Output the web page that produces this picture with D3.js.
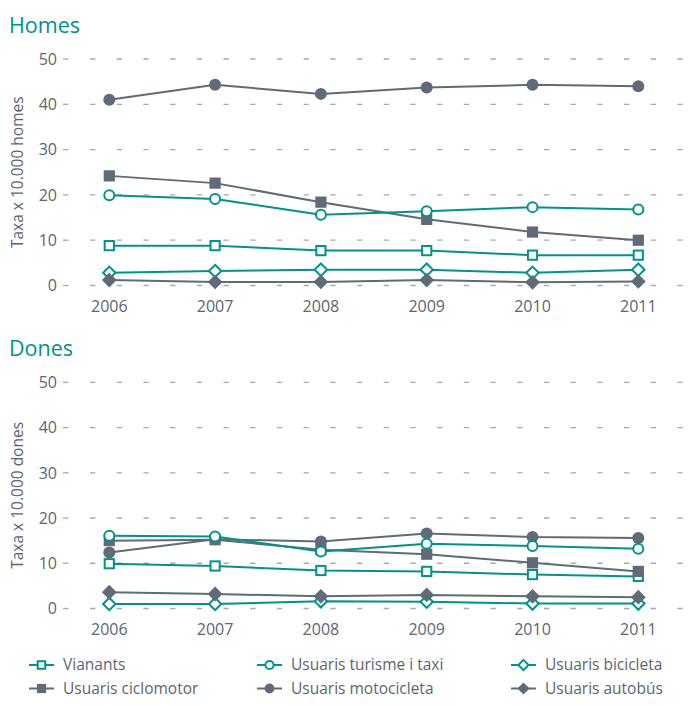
<!DOCTYPE html>
<html>
<head>
<meta charset="utf-8">
<script src="https://cdn.jsdelivr.net/npm/d3@7/dist/d3.min.js"></script>
<style>
  html, body { margin: 0; padding: 0; background: #fff; }
  svg { display: block; font-family: "Open Sans", "Noto Sans", sans-serif; }
</style>
</head>
<body>
<svg id="chart" width="689" height="706"></svg>
<script>
// Years on the horizontal axis
const years = [2006, 2007, 2008, 2009, 2010, 2011];
const yTicks = [0, 10, 20, 30, 40, 50];

// Rates per 10,000 — men
const homesVianants    = [8.8, 8.8, 7.7, 7.7, 6.7, 6.7];
const homesTurisme     = [19.9, 19.1, 15.6, 16.4, 17.3, 16.8];
const homesBicicleta   = [2.8, 3.2, 3.5, 3.5, 2.8, 3.5];
const homesCiclomotor  = [24.2, 22.6, 18.4, 14.6, 11.8, 10.0];
const homesMotocicleta = [41.0, 44.3, 42.3, 43.7, 44.3, 44.0];
const homesAutobus     = [1.2, 0.8, 0.8, 1.2, 0.7, 0.9];

// Rates per 10,000 — women
const donesVianants    = [9.9, 9.4, 8.4, 8.2, 7.5, 7.1];
const donesTurisme     = [16.1, 15.9, 12.6, 14.3, 13.8, 13.2];
const donesBicicleta   = [1.0, 1.0, 1.6, 1.5, 1.1, 1.1];
const donesCiclomotor  = [15.0, 15.2, 13.0, 12.0, 10.1, 8.2];
const donesMotocicleta = [12.4, 15.3, 14.8, 16.6, 15.8, 15.6];
const donesAutobus     = [3.6, 3.2, 2.7, 3.0, 2.7, 2.5];

const seriesNames = ["Vianants", "Usuaris turisme i taxi", "Usuaris bicicleta",
                     "Usuaris ciclomotor", "Usuaris motocicleta", "Usuaris autobús"];

const TEAL = "#00928b";
const GREY = "#5f6b76";
const TEXT = "#5c6670";
const GRID = "#a3abb2";

// Series styling: shape, colour, open/filled
const styles = {
  "Vianants":               { shape: "square",  color: TEAL, open: true },
  "Usuaris turisme i taxi": { shape: "circle",  color: TEAL, open: true },
  "Usuaris bicicleta":      { shape: "diamond", color: TEAL, open: true },
  "Usuaris ciclomotor":     { shape: "square",  color: GREY, open: false },
  "Usuaris motocicleta":    { shape: "circle",  color: GREY, open: false },
  "Usuaris autobús":        { shape: "diamond", color: GREY, open: false }
};

// Drawing order (later ones sit on top)
const drawOrder = ["Vianants", "Usuaris bicicleta", "Usuaris autobús",
                   "Usuaris ciclomotor", "Usuaris motocicleta", "Usuaris turisme i taxi"];

const panels = [
  { title: "Homes", axisTitle: "Taxa x 10.000 homes", top: 59, bottom: 285.5,
    data: { "Vianants": homesVianants, "Usuaris turisme i taxi": homesTurisme,
            "Usuaris bicicleta": homesBicicleta, "Usuaris ciclomotor": homesCiclomotor,
            "Usuaris motocicleta": homesMotocicleta, "Usuaris autobús": homesAutobus } },
  { title: "Dones", axisTitle: "Taxa x 10.000 dones", top: 382.3, bottom: 608.5,
    data: { "Vianants": donesVianants, "Usuaris turisme i taxi": donesTurisme,
            "Usuaris bicicleta": donesBicicleta, "Usuaris ciclomotor": donesCiclomotor,
            "Usuaris motocicleta": donesMotocicleta, "Usuaris autobús": donesAutobus } }
];

const svg = d3.select("#chart");
const x = d3.scalePoint().domain(years).range([109.3, 638.3]);

// Marker drawing helper
function drawMarker(g, shape, color, open, cx, cy, scale) {
  const s = scale || 1;
  const fill = open ? "#fff" : color;
  const sw = open ? 2 : 0;
  if (shape === "circle") {
    g.append("circle").attr("cx", cx).attr("cy", cy)
      .attr("r", (open ? 5 : 6) * s)
      .attr("fill", fill).attr("stroke", color).attr("stroke-width", sw);
  } else if (shape === "square") {
    const h = (open ? 4.6 : 5.6) * s;
    g.append("rect").attr("x", cx - h).attr("y", cy - h)
      .attr("width", 2 * h).attr("height", 2 * h)
      .attr("fill", fill).attr("stroke", color).attr("stroke-width", sw);
  } else {
    const h = (open ? 6.2 : 7.4) * s;
    g.append("path")
      .attr("d", `M${cx},${cy - h}L${cx + h},${cy}L${cx},${cy + h}L${cx - h},${cy}Z`)
      .attr("fill", fill).attr("stroke", color).attr("stroke-width", sw)
      .attr("stroke-linejoin", "miter");
  }
}

panels.forEach(p => {
  const y = d3.scaleLinear().domain([0, 50]).range([p.bottom, p.top]);
  const g = svg.append("g");

  // Panel title
  g.append("text").attr("x", 9).attr("y", p.top - 26)
    .attr("fill", TEAL).attr("font-size", 21.5).attr("font-weight", 400)
    .text(p.title);

  // Dashed horizontal grid + short tick marks
  g.selectAll(".grid").data(yTicks).join("line")
    .attr("x1", 90).attr("x2", 686)
    .attr("y1", d => y(d)).attr("y2", d => y(d))
    .attr("stroke", GRID).attr("stroke-width", 1.3)
    .attr("stroke-dasharray", "5.3,21.4");
  g.selectAll(".tick").data(yTicks).join("line")
    .attr("x1", 63).attr("x2", 68.5)
    .attr("y1", d => y(d)).attr("y2", d => y(d))
    .attr("stroke", GRID).attr("stroke-width", 1.3);

  // Y tick labels
  g.selectAll(".ylab").data(yTicks).join("text")
    .attr("x", 57).attr("y", d => y(d)).attr("dy", "0.36em")
    .attr("text-anchor", "end").attr("fill", TEXT).attr("font-size", 16)
    .text(d => d);

  // Y axis title
  const midY = (p.top + p.bottom) / 2;
  g.append("text")
    .attr("transform", `translate(23,${midY}) rotate(-90)`)
    .attr("text-anchor", "middle").attr("fill", TEXT).attr("font-size", 15.5)
    .text(p.axisTitle);

  // X tick labels
  g.selectAll(".xlab").data(years).join("text")
    .attr("x", d => x(d)).attr("y", p.bottom + 26)
    .attr("text-anchor", "middle").attr("fill", TEXT).attr("font-size", 16)
    .text(d => d);

  // Series lines and markers
  const line = d3.line().x((d, i) => x(years[i])).y(d => y(d));
  drawOrder.forEach(name => {
    const st = styles[name];
    const vals = p.data[name];
    const sg = g.append("g");
    sg.append("path").attr("d", line(vals))
      .attr("fill", "none").attr("stroke", st.color).attr("stroke-width", 2);
    vals.forEach((v, i) => drawMarker(sg, st.shape, st.color, st.open, x(years[i]), y(v)));
  });
});

// Legend
const legendCols = [29, 257, 511];
const legendRows = [665, 688.5];
const legendLayout = [
  ["Vianants", 0, 0], ["Usuaris turisme i taxi", 1, 0], ["Usuaris bicicleta", 2, 0],
  ["Usuaris ciclomotor", 0, 1], ["Usuaris motocicleta", 1, 1], ["Usuaris autobús", 2, 1]
];
const lg = svg.append("g");
legendLayout.forEach(([name, c, r]) => {
  const st = styles[name];
  const lx = legendCols[c], ly = legendRows[r];
  lg.append("line").attr("x1", lx).attr("x2", lx + 25)
    .attr("y1", ly).attr("y2", ly)
    .attr("stroke", st.color).attr("stroke-width", 2);
  drawMarker(lg, st.shape, st.color, st.open, lx + 12.5, ly, 0.82);
  lg.append("text").attr("x", lx + 34).attr("y", ly).attr("dy", "0.35em")
    .attr("fill", TEXT).attr("font-size", 15.5).text(name);
});
</script>
</body>
</html>
